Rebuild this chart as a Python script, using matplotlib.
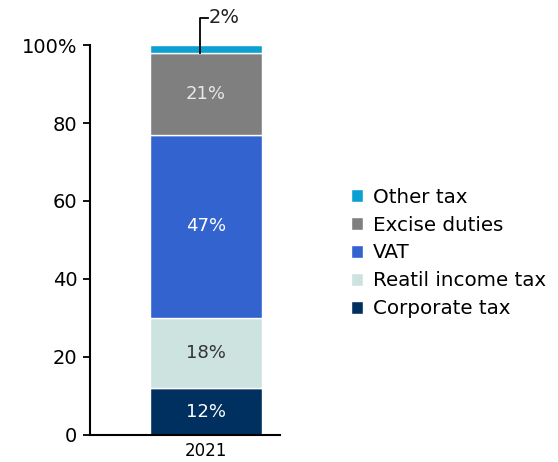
import matplotlib.pyplot as plt

year = "2021"
categories = ["Corporate tax", "Reatil income tax", "VAT", "Excise duties", "Other tax"]
shares = [12, 18, 47, 21, 2]
colors = ["#00305f", "#cce3df", "#3263cf", "#7f7f7f", "#0aa0d2"]
text_colors = ["white", "#333333", "white", "#e8e8e8", "#222222"]
yticks = [0, 20, 40, 60, 80, 100]
ytick_labels = ["0", "20", "40", "60", "80", "100%"]

fig = plt.figure(figsize=(5.58, 4.62), dpi=100)
ax = fig.add_axes([90 / 558, 27 / 462, 190 / 558, 390 / 462])

bar_w = 0.6
bottom = 0
bars = []
for cat, val, col, tc in zip(categories, shares, colors, text_colors):
    b = ax.bar(0, val, width=bar_w, bottom=bottom, color=col,
               edgecolor="white", linewidth=1, label=cat)
    bars.append(b)
    if val >= 5:
        ax.text(0, bottom + val / 2, f"{val}%", ha="center", va="center",
                color=tc, fontsize=13)
    bottom += val

# callout for the small segment
top_excise = sum(shares[:-1])
ax.plot([-0.03, -0.03, 0.01], [top_excise, 107, 107], color="black",
        linewidth=1.3, clip_on=False)
ax.text(0.012, 107, f"{shares[-1]}%", ha="left", va="center", fontsize=14,
        color="#222222", clip_on=False)

ax.set_xlim(-0.616, 0.393)
ax.set_ylim(0, 100)
ax.set_xticks([0])
ax.set_xticklabels([year], fontsize=12)
ax.set_yticks(yticks)
ax.set_yticklabels(ytick_labels, fontsize=14)
ax.tick_params(axis="x", length=0, pad=5)
ax.tick_params(axis="y", length=5, width=1.3, direction="out", pad=4)
for s in ["top", "right"]:
    ax.spines[s].set_visible(False)
for s in ["left", "bottom"]:
    ax.spines[s].set_linewidth(1.5)

handles = [b[0] for b in bars][::-1]
labels = categories[::-1]
fig.legend(handles, labels, loc="center left", bbox_to_anchor=(351 / 558, 1 - 253 / 462),
           frameon=False, fontsize=14.3, handlelength=0.62, handleheight=0.62,
           handletextpad=0.5, labelspacing=0.45, borderaxespad=0, borderpad=0)

fig.savefig("out.png", dpi=100)
